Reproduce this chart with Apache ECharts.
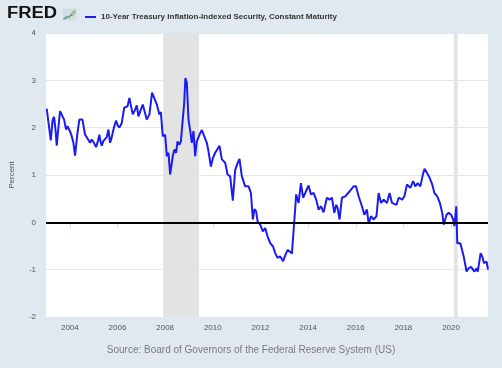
<!DOCTYPE html>
<html>
<head>
<meta charset="utf-8">
<script src="https://cdn.jsdelivr.net/npm/echarts@6/dist/echarts.min.js"></script>
<style>
html,body{margin:0;padding:0;background:#e1e9f0;}
#chart{width:502px;height:368px;}
</style>
</head>
<body>
<div id="chart"></div>
<script>
const seriesName = '10-Year Treasury Inflation-Indexed Security, Constant Maturity';
const sourceText = 'Source: Board of Governors of the Federal Reserve System (US)';
const yAxisName = 'Percent';
const xTickYears = [2004, 2006, 2008, 2010, 2012, 2014, 2016, 2018, 2020];
const recessions = [[2007.92, 2009.42], [2020.12, 2020.28]];
const years = [
  2003.03, 2003.20, 2003.28, 2003.34, 2003.40, 2003.45, 2003.52, 2003.59, 2003.67, 2003.76,
  2003.84, 2003.90, 2004.01, 2004.08, 2004.15, 2004.22, 2004.32, 2004.40, 2004.46, 2004.53,
  2004.64, 2004.71, 2004.78, 2004.85, 2004.92, 2004.99, 2005.05, 2005.10, 2005.17, 2005.24,
  2005.29, 2005.34, 2005.41, 2005.48, 2005.55, 2005.62, 2005.69, 2005.76, 2005.83, 2005.94,
  2006.01, 2006.08, 2006.18, 2006.28, 2006.36, 2006.42, 2006.50, 2006.57, 2006.64, 2006.74,
  2006.81, 2006.88, 2006.98, 2007.06, 2007.12, 2007.23, 2007.34, 2007.45, 2007.53, 2007.65,
  2007.76, 2007.82, 2007.90, 2008.00, 2008.07, 2008.14, 2008.21, 2008.32, 2008.39, 2008.46,
  2008.52, 2008.60, 2008.66, 2008.74, 2008.80, 2008.85, 2008.91, 2008.98, 2009.05, 2009.12,
  2009.19, 2009.26, 2009.33, 2009.44, 2009.54, 2009.64, 2009.75, 2009.82, 2009.92, 2010.00,
  2010.10, 2010.17, 2010.28, 2010.38, 2010.52, 2010.62, 2010.73, 2010.84, 2010.94, 2011.04,
  2011.12, 2011.22, 2011.36, 2011.50, 2011.60, 2011.68, 2011.75, 2011.82, 2011.88, 2011.99,
  2012.10, 2012.20, 2012.30, 2012.41, 2012.53, 2012.62, 2012.72, 2012.83, 2012.95, 2013.04,
  2013.14, 2013.22, 2013.32, 2013.42, 2013.50, 2013.60, 2013.70, 2013.79, 2013.88, 2014.02,
  2014.12, 2014.23, 2014.34, 2014.44, 2014.54, 2014.65, 2014.79, 2014.90, 2015.00, 2015.10,
  2015.18, 2015.24, 2015.32, 2015.42, 2015.56, 2015.70, 2015.80, 2015.91, 2016.01, 2016.12,
  2016.26, 2016.36, 2016.47, 2016.54, 2016.64, 2016.75, 2016.87, 2016.96, 2017.06, 2017.17,
  2017.31, 2017.42, 2017.52, 2017.59, 2017.71, 2017.80, 2017.95, 2018.04, 2018.15, 2018.29,
  2018.41, 2018.50, 2018.60, 2018.71, 2018.83, 2018.89, 2018.99, 2019.10, 2019.21, 2019.30,
  2019.42, 2019.53, 2019.63, 2019.69, 2019.81, 2019.90, 2020.00, 2020.09, 2020.14, 2020.22,
  2020.26, 2020.39, 2020.46, 2020.53, 2020.65, 2020.74, 2020.84, 2020.92, 2020.98, 2021.07,
  2021.12, 2021.24, 2021.31, 2021.38, 2021.49, 2021.55
];
const values = [
  2.40, 1.73, 2.17, 2.23, 1.95, 1.62, 2.00, 2.35, 2.31, 2.17,
  1.96, 2.03, 1.92, 1.82, 1.68, 1.41, 1.89, 2.17, 2.13, 2.17,
  1.85, 1.80, 1.78, 1.68, 1.75, 1.70, 1.72, 1.59, 1.70, 1.85,
  1.70, 1.62, 1.72, 1.68, 1.80, 1.96, 1.68, 1.80, 1.96, 2.15,
  2.05, 2.00, 2.10, 2.42, 2.45, 2.45, 2.63, 2.45, 2.28, 2.38,
  2.47, 2.24, 2.38, 2.49, 2.38, 2.17, 2.28, 2.74, 2.70, 2.49,
  2.28, 2.33, 1.82, 1.85, 1.40, 1.47, 1.01, 1.40, 1.54, 1.47,
  1.71, 1.64, 1.71, 1.68, 2.52, 3.05, 2.95, 2.17, 1.95, 1.68,
  1.93, 1.40, 1.71, 1.85, 1.95, 1.82, 1.68, 1.50, 1.18, 1.35,
  1.47, 1.43, 1.62, 1.33, 1.26, 1.01, 0.97, 0.46, 1.11, 1.25,
  1.34, 0.97, 0.76, 0.76, 0.62, 0.06, 0.28, 0.23, 0.02, -0.05,
  -0.19, -0.12, -0.30, -0.44, -0.51, -0.65, -0.75, -0.72, -0.82, -0.70,
  -0.58, -0.55, -0.66, 0.02, 0.59, 0.41, 0.83, 0.52, 0.62, 0.78,
  0.59, 0.62, 0.48, 0.27, 0.34, 0.21, 0.52, 0.48, 0.52, 0.20,
  0.37, 0.30, 0.06, 0.52, 0.55, 0.63, 0.69, 0.76, 0.76, 0.55,
  0.34, 0.16, 0.27, -0.03, 0.13, 0.06, 0.13, 0.62, 0.41, 0.48,
  0.41, 0.62, 0.41, 0.41, 0.37, 0.52, 0.48, 0.55, 0.80, 0.73,
  0.87, 0.76, 0.83, 0.76, 1.04, 1.13, 1.04, 0.94, 0.80, 0.62,
  0.55, 0.41, 0.20, -0.05, 0.16, 0.20, 0.16, 0.06, -0.08, 0.34,
  -0.44, -0.44, -0.48, -0.72, -1.04, -0.97, -0.94, -0.90, -1.04, -0.97,
  -1.04, -0.65, -0.72, -0.86, -0.83, -1.00
];

const chart = echarts.init(document.getElementById('chart'), null, {renderer: 'canvas'});
const lineData = years.map((y, i) => [y, values[i]]);
const FONT = 'Liberation Sans, Arial, sans-serif';

chart.setOption({
  animation: false,
  backgroundColor: '#e1e9f0',
  textStyle: {fontFamily: FONT},
  grid: {left: 46, right: 14, top: 33, bottom: 51, show: true, backgroundColor: '#ffffff', borderWidth: 0, containLabel: false},
  legend: {
    left: 80, top: 8, itemWidth: 11, itemHeight: 2, icon: 'rect', itemGap: 5,
    data: [seriesName],
    textStyle: {fontFamily: FONT, fontSize: 8, fontWeight: 'bold', color: '#333'}
  },
  graphic: [
    {type: 'text', left: 7, top: 6, style: {text: 'FRED', font: '900 16px ' + FONT, fill: '#111'}, scaleX: 1.15},
    {type: 'group', left: 61, top: 8, children: [
      {type: 'rect', shape: {x: 0, y: 0, width: 14, height: 12}, style: {fill: '#d3dde7'}},
      {type: 'polyline', shape: {points: [[1, 11], [4, 8], [7, 9], [10, 4], [13, 2]]}, style: {stroke: '#7db24b', lineWidth: 1.2, fill: null}},
      {type: 'polyline', shape: {points: [[1, 10], [4, 10], [7, 7], [10, 7], [13, 4]]}, style: {stroke: '#5d90c9', lineWidth: 1, fill: null}}
    ]},
    {type: 'text', left: 'center', top: 345, style: {text: sourceText, font: '10px ' + FONT, fill: '#7a7a7a'}}
  ],
  xAxis: {
    type: 'value', min: 2003, max: 2021.55,
    axisLine: {show: true, lineStyle: {color: '#ccd6eb', width: 1}},
    axisTick: {show: true, length: 5, lineStyle: {color: '#ccd6eb'}, customValues: xTickYears},
    axisLabel: {customValues: xTickYears, formatter: v => String(Math.round(v)), color: '#555', fontSize: 8, margin: 7},
    splitLine: {show: false}
  },
  yAxis: {
    type: 'value', min: -2, max: 4, interval: 1,
    name: yAxisName, nameLocation: 'middle', nameGap: 30, nameRotate: 90,
    nameTextStyle: {color: '#555', fontSize: 8},
    axisLine: {show: false}, axisTick: {show: false},
    axisLabel: {color: '#555', fontSize: 8, margin: 10},
    splitLine: {show: true, lineStyle: {color: '#e6e6e6', width: 1}}
  },
  series: [
    {
      type: 'line', data: [], z: 1, silent: true,
      markArea: {silent: true, itemStyle: {color: '#e3e3e3'},
        data: recessions.map(r => [{xAxis: r[0]}, {xAxis: r[1]}])}
    },
    {
      name: seriesName, type: 'line', data: lineData, z: 3,
      showSymbol: false, symbol: 'none',
      lineStyle: {color: '#1c1cf0', width: 2},
      itemStyle: {color: '#1c1cf0'},
      markLine: {silent: true, symbol: ['none', 'none'], label: {show: false},
        lineStyle: {color: '#000', width: 2, type: 'solid'}, data: [{yAxis: 0}]}
    }
  ]
});
</script>
</body>
</html>
